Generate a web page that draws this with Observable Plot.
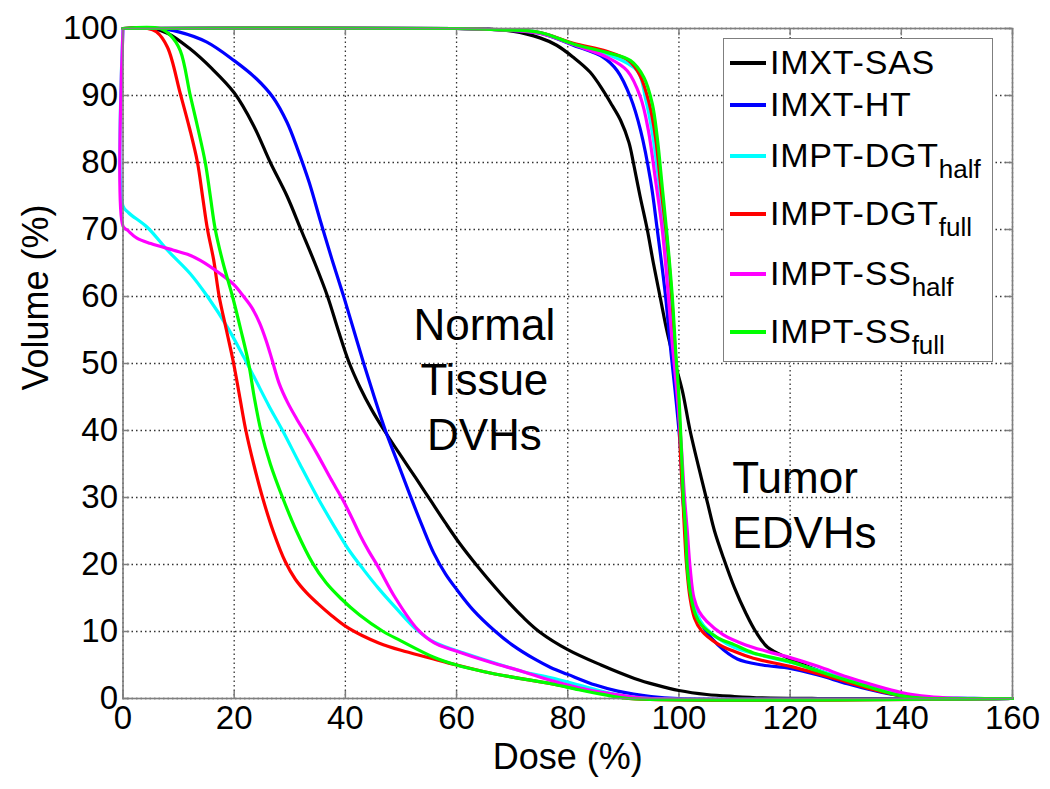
<!DOCTYPE html>
<html><head><meta charset="utf-8">
<script src="https://cdn.jsdelivr.net/npm/d3@7"></script>
<script src="https://cdn.jsdelivr.net/npm/@observablehq/plot@0.6"></script>
<style>
body{margin:0;background:#fff;}
#wrap{position:relative;width:1050px;height:789px;font-family:Arial,"Liberation Sans",sans-serif;}
#legend{position:absolute;left:723px;top:38px;width:270px;height:324px;border:1.5px solid #7f7f7f;background:#fff;box-sizing:border-box;}
.item{position:absolute;left:0;height:0;}
.sw{position:absolute;left:6px;width:36px;height:0;border-top:4px solid;top:-2px;}
.lab{position:absolute;left:46px;top:-20px;font-size:34px;letter-spacing:0.8px;line-height:38px;white-space:nowrap;color:#000;}
.lab sub{font-size:26px;letter-spacing:0;vertical-align:-11px;line-height:0;}
</style></head>
<body><div id="wrap"><div id="chart"></div><div id="legend"></div></div>
<script>
// ---- data ----
const seriesNames = ["IMXT-SAS","IMXT-HT","IMPT-DGT","IMPT-DGT","IMPT-SS","IMPT-SS"];
const seriesSubs  = ["","","half","full","half","full"];
const seriesColors = ["#000000","#0000ff","#00ffff","#ff0000","#ff00ff","#00ff00"];

const xTicks = [0,20,40,60,80,100,120,140,160];
const yTicks = [0,10,20,30,40,50,60,70,80,90,100];
const xLabel = "Dose (%)";
const yLabel = "Volume (%)";

// Normal tissue DVHs [dose, volume]
const normalSAS = [[0,100],[5,100],[8,99.3],[12,97],[16,94],[20,90.4],[23.5,85.5],[26.5,80],[29.5,75],[32,70],[34.5,65],[36.8,60],[38.7,55],[40.6,50.3],[42.6,46.5],[44.8,43],[47,40],[50,36.2],[52.6,33],[55.3,29.6],[58,26.2],[60.5,23.2],[63.5,20],[68,15.6],[72,12.1],[75,9.9],[80,7.3],[86,5],[92,3],[96,2],[100,1.2],[105,0.6],[110,0.3],[115,0.1],[125,0],[160,0]];
const normalHT = [[0,100],[6,100],[10,99.5],[15,98],[20,95.2],[24,92.5],[27,89.7],[29.5,86],[31.4,82],[33.5,77],[35.5,71.3],[37.6,65.5],[39.7,60],[41.5,55],[43.3,50],[45.2,45],[47.2,40],[49.5,35],[51.7,30.2],[53.8,25.8],[55.9,21.7],[58,18.6],[60,16.3],[63,13.2],[67,10],[70,8],[74,5.9],[77,4.6],[80,3.6],[85,2],[89,1.1],[95,0.3],[100,0],[160,0]];
const normalDGThalf = [[0,100],[0,73.5],[1,72.5],[4.4,70.3],[8,66.9],[12.1,63.4],[15.2,60],[18.8,55.4],[21.7,51],[24,47.3],[26.3,43.6],[28.7,40],[31.8,35],[35,30],[38,25.7],[40.6,22.2],[43.3,19.2],[46,16.4],[49,13.6],[52.9,10.2],[56,8.4],[62,6.6],[68,5],[72,4],[77,3.1],[82,2],[87,0.9],[92,0.2],[95,0],[160,0]];
const normalDGTfull = [[0,100],[4.4,100],[6,99.5],[8,97.2],[10.3,90.3],[12,85],[13.4,80],[14.3,75],[15.2,70],[16.3,65.5],[17.3,60],[18.6,55],[19.9,50],[21,45],[22.1,40],[23.5,35],[25.1,30],[27,25],[29.2,20.4],[31,17.8],[33,15.8],[35,14.2],[37.5,12.4],[40,10.8],[43,9.4],[46,8.3],[50,7.2],[55,6.1],[60,5],[65,4],[70,3.2],[77,2.2],[82,1.4],[87,0.6],[91,0],[160,0]];
const normalSShalf = [[0,100],[0,70.5],[0.8,69.9],[2.5,68.7],[5,67.9],[9.1,66.9],[11.6,66.3],[13.9,65.4],[17.5,63.4],[19.9,61.8],[21.7,60],[23.2,58.3],[24.6,56],[25.8,53.3],[26.9,50.3],[28.1,47],[29.6,44.2],[31.2,41.8],[33,39.3],[35,36.4],[37.3,32.9],[39.7,29.4],[41.2,26.9],[42.7,24.3],[44.2,22],[45.8,19.8],[49,15],[52.9,10.4],[56,8.3],[59.5,7.2],[66.1,5.4],[72,4],[76.9,2.7],[82,1.6],[87,0.8],[92,0.2],[95,0],[160,0]];
const normalSSfull = [[0,100],[6.7,100],[8.5,99],[10.3,96.7],[12.1,90],[13.5,85],[14.8,80],[15.7,75],[16.6,70],[18,65],[19.7,60],[21.2,55],[22.6,50],[23.6,45],[24.8,40],[26.5,35],[28.7,30],[31.2,25],[34.1,20.2],[36.5,17.3],[39.1,15],[42.5,12.5],[46.8,10],[50,8.6],[55.8,6.2],[60,5],[65,4],[70,3.2],[77,2.2],[82,1.3],[87,0.5],[91,0],[160,0]];

// Tumor EDVHs [dose, volume]
const tumorSAS = [[0,100],[60,100],[66,99.9],[70,99.6],[75,98.6],[78,97.5],[81,95.7],[84,93.5],[86.4,90.7],[88,88.5],[89.5,86.3],[91,83],[91.8,80],[93,75],[94.3,70],[95.4,65],[96.6,60],[97.8,55],[99,50.9],[100.6,46],[102,40],[104,33],[105.2,29],[106.4,25],[108,21],[110,16.5],[112,12.8],[113.8,10],[116,7.6],[120,5.9],[125,4.2],[130,2.8],[135,1.6],[140,0.5],[145,0.1],[148,0],[160,0]];
const tumorHT = [[0,100],[60,100],[68,99.8],[75,99.3],[81,97.5],[86.4,95.7],[88.9,93.7],[91.3,89.7],[93.1,84.8],[94.9,77.3],[96.1,70],[97.6,60],[98.4,53],[99.3,46],[100.2,38],[100.7,30],[101.2,25],[101.6,19.6],[102.3,15],[103.2,12.5],[104.5,10.5],[107,8],[110.5,5.9],[115,5],[120,4.5],[125,3.5],[130.3,2.2],[135,1.2],[140,0.4],[145,0.1],[155,0],[160,0]];
const tumorDGThalf = [[0,100],[60,100],[68,99.8],[75,99.4],[81,97.7],[87,96.2],[92.5,93.7],[94,89.5],[95.3,84],[96.4,77],[97.4,70],[98.4,60],[99.1,53],[99.8,46],[100.3,38],[100.8,30],[101.3,25],[101.7,19.6],[102.4,15],[103.3,12.5],[104.5,10.8],[107,9],[110,7.6],[114,6.6],[120,5.4],[125,4.2],[130.3,2.8],[135,1.6],[140,0.6],[145,0.15],[152,0],[160,0]];
const tumorDGTfull = [[0,100],[60,100],[68,99.8],[75,99.4],[81,97.8],[87,96.6],[91,95.2],[93,93],[94.6,89],[95.8,83.7],[96.8,76],[97.8,68.8],[98.7,60],[99.3,52],[99.9,45],[100.3,36],[100.7,30],[101,25],[101.4,19.6],[102,15],[102.8,12],[104,10.2],[106.9,8.2],[110,7],[113.4,6],[120,4.8],[125,3.7],[130,2.5],[135,1.3],[140,0.4],[145,0.05],[150,0],[160,0]];
const tumorSShalf = [[0,100],[60,100],[68,99.8],[75,99.3],[81,97.6],[87.1,95.7],[90.7,93.7],[93.1,89.7],[94.5,84.8],[95.8,77.3],[97,70],[98.1,60],[98.8,53],[99.6,46],[100.4,38],[101,30],[101.5,25],[102,19.6],[102.7,15],[103.6,13],[105,11.5],[108,9.5],[112,8],[116,7],[120,6.1],[125,4.8],[130.3,3.2],[135,2],[140,0.9],[145,0.3],[150,0.05],[152,0],[160,0]];
const tumorSSfull = [[0,100],[60,100],[68,99.8],[75,99.4],[81,97.7],[87.1,96.4],[91.3,95.2],[93.7,92.7],[95.2,88.8],[96.1,83.7],[97,76.3],[97.9,68.8],[98.8,60],[99.4,52],[100,45],[100.5,36],[100.8,30],[101.2,25],[101.5,19.6],[102.2,15],[103,12.5],[104,11],[106.9,9.1],[110,8],[113.4,6.8],[120,5.5],[125,4.1],[130.3,2.7],[135,1.5],[140,0.4],[143,0.1],[145,0],[160,0]];

const normalCurves = [normalSAS, normalHT, normalDGThalf, normalDGTfull, normalSShalf, normalSSfull];
const tumorCurves  = [tumorSAS, tumorHT, tumorDGThalf, tumorDGTfull, tumorSShalf, tumorSSfull];

const noteNormal = [{text:"Normal\nTissue\nDVHs", dose:65, vol:47.9}];
const noteTumor  = [{text:"Tumor\nEDVHs", dose:109.6, vol:29.2}];

// ---- build table ----
const rows = [];
seriesNames.forEach((n, i) => {
  [["normal", normalCurves[i]], ["tumor", tumorCurves[i]]].forEach(([kind, pts]) => {
    pts.forEach(([d, v]) => rows.push({key: i + kind, color: seriesColors[i], dose: d, vol: v}));
  });
});

const font = "Arial, 'Liberation Sans', sans-serif";
const grid = {stroke: "#333", strokeWidth: 1.3, strokeDasharray: "1.5,3"};
const tickStyle = {stroke: "#7f7f7f", strokeWidth: 1.5};
const chart = Plot.plot({
  width: 1050, height: 789,
  marginLeft: 122.5, marginRight: 38, marginTop: 28, marginBottom: 91,
  x: {domain: [0, 160]},
  y: {domain: [0, 100]},
  color: {type: "identity"},
  style: {fontFamily: font, background: "white", overflow: "visible", color: "black"},
  marks: [
    Plot.ruleX(xTicks, grid),
    Plot.ruleY(yTicks, grid),
    // short inward ticks on all four sides
    Plot.ruleX(xTicks, {y1: 0, y2: 1.1, ...tickStyle}),
    Plot.ruleX(xTicks, {y1: 98.9, y2: 100, ...tickStyle}),
    Plot.ruleY(yTicks, {x1: 0, x2: 1.2, ...tickStyle}),
    Plot.ruleY(yTicks, {x1: 158.8, x2: 160, ...tickStyle}),
    Plot.line(rows, {x: "dose", y: "vol", z: "key", stroke: "color", strokeWidth: 3.2, curve: "catmull-rom", strokeLinejoin: "round"}),
    Plot.frame({stroke: "#7f7f7f", strokeWidth: 1.6}),
    Plot.axisX({ticks: xTicks, tickSize: 0, tickPadding: 7, fontSize: 33, label: null, tickFormat: d => d}),
    Plot.axisY({ticks: yTicks, tickSize: 0, tickPadding: 5, fontSize: 33, label: null, tickFormat: d => d}),
    Plot.text([xLabel], {frameAnchor: "bottom", textAnchor: "middle", lineAnchor: "middle", dy: 59, fontSize: 36, text: d => d}),
    Plot.text([yLabel], {frameAnchor: "left", textAnchor: "middle", lineAnchor: "middle", rotate: -90, dx: -87, dy: -66, fontSize: 36, text: d => d}),
    Plot.text(noteNormal, {x: "dose", y: "vol", text: "text", textAnchor: "middle", fontSize: 44, lineHeight: 1.25, fill: "black"}),
    Plot.text(noteTumor, {x: "dose", y: "vol", text: "text", textAnchor: "start", fontSize: 44, lineHeight: 1.25, fill: "black"})
  ]
});
document.getElementById("chart").appendChild(chart);

// legend
const legend = document.getElementById("legend");
const itemY = [24, 66, 117, 175, 235, 293];
seriesNames.forEach((n, i) => {
  const it = document.createElement("div");
  it.className = "item";
  it.style.top = itemY[i] + "px";
  it.innerHTML = `<div class="sw" style="border-color:${seriesColors[i]}"></div><div class="lab">${n}${seriesSubs[i] ? `<sub>${seriesSubs[i]}</sub>` : ""}</div>`;
  legend.appendChild(it);
});
</script></body></html>
